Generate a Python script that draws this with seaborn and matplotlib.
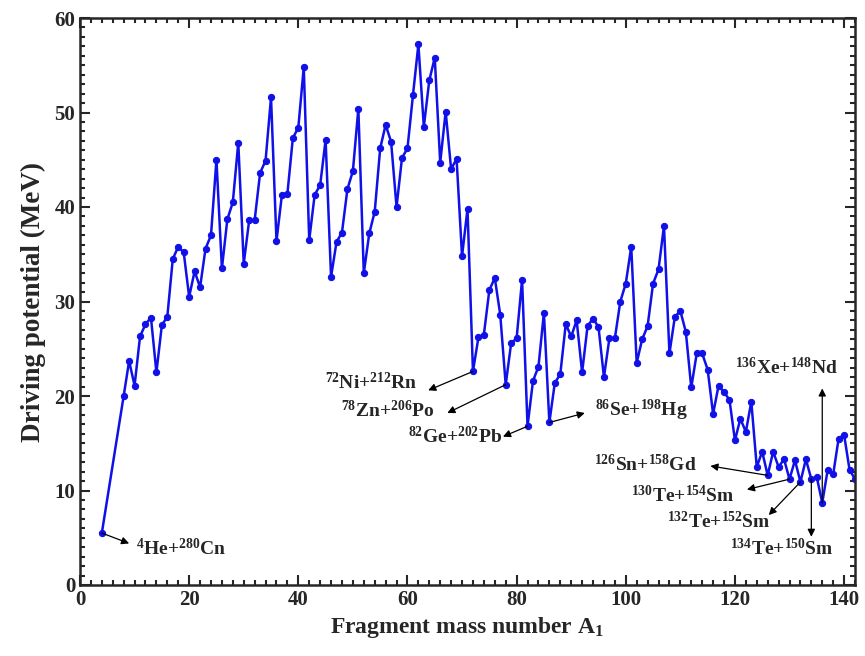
import matplotlib
matplotlib.use("Agg")
import matplotlib.pyplot as plt
import seaborn as sns
import pandas as pd
from matplotlib.ticker import MultipleLocator

# ---------------- data ----------------
mass_numbers = [4] + list(range(8, 143))
driving_potential = [
    5.5,
    20.0, 23.7, 21.1, 26.3, 27.6, 28.3, 22.5, 27.5, 28.4, 34.5,
    35.8, 35.2, 30.5, 33.2, 31.5, 35.6, 37.0, 45.0, 33.5, 38.7,
    40.5, 46.8, 34.0, 38.6, 38.6, 43.6, 44.9, 51.6, 36.4, 41.3,
    41.4, 47.3, 48.4, 54.8, 36.5, 41.3, 42.3, 47.1, 32.6, 36.3,
    37.3, 41.9, 43.8, 50.4, 33.0, 37.2, 39.5, 46.2, 48.7, 46.9,
    40.0, 45.2, 46.2, 51.8, 57.2, 48.5, 53.4, 55.8, 44.7, 50.1,
    44.0, 45.1, 34.8, 39.8, 22.6, 26.2, 26.5, 31.2, 32.5, 28.6,
    21.2, 25.6, 26.1, 32.3, 16.8, 21.6, 23.1, 28.8, 17.2, 21.4,
    22.3, 27.6, 26.3, 28.0, 22.5, 27.4, 28.2, 27.3, 22.0, 26.1,
    26.1, 30.0, 31.9, 35.8, 23.5, 26.0, 27.4, 31.9, 33.4, 38.0,
    24.5, 28.4, 29.0, 26.8, 20.9, 24.5, 24.5, 22.8, 18.1, 21.1,
    20.4, 19.6, 15.3, 17.6, 16.2, 19.4, 12.5, 14.1, 11.6, 14.1,
    12.5, 13.3, 11.2, 13.2, 10.9, 13.3, 11.2, 11.4, 8.7, 12.2,
    11.7, 15.5, 15.9, 12.2, 11.2,
]

labels = [r"$^{4}$He+$^{280}$Cn", r"$^{72}$Ni+$^{212}$Rn", r"$^{78}$Zn+$^{206}$Po",
          r"$^{82}$Ge+$^{202}$Pb", r"$^{86}$Se+$^{198}$Hg", r"$^{126}$Sn+$^{158}$Gd",
          r"$^{130}$Te+$^{154}$Sm", r"$^{132}$Te+$^{152}$Sm", r"$^{134}$Te+$^{150}$Sm",
          r"$^{136}$Xe+$^{148}$Nd"]
label_mass = [4, 72, 78, 82, 86, 126, 130, 132, 134, 136]
label_text_x = [18.6, 53.3, 56.4, 68.8, 102.8, 103.5, 110.4, 117.0, 128.6, 129.5]
label_text_y = [3.9, 21.4, 18.5, 15.7, 18.5, 12.8, 9.5, 6.7, 3.9, 23.0]
arrow_head_x = [9.0, 63.8, 67.3, 77.5, 92.5, 115.5, 122.2, 126.2, 134.0, 136.0]
arrow_head_y = [4.4, 20.6, 18.2, 15.7, 18.2, 12.6, 10.1, 7.4, 5.1, 20.8]

df = pd.DataFrame({"A1": mass_numbers, "V": driving_potential})

# ---------------- style ----------------
sns.set_style("ticks")
plt.rcParams["font.family"] = ["Liberation Serif", "DejaVu Serif"]
plt.rcParams["font.weight"] = "bold"
plt.rcParams["mathtext.fontset"] = "custom"
plt.rcParams["mathtext.rm"] = "Liberation Serif:bold"
plt.rcParams["mathtext.it"] = "Liberation Serif:bold:italic"
plt.rcParams["mathtext.bf"] = "Liberation Serif:bold"
plt.rcParams["mathtext.default"] = "rm"

fig = plt.figure(figsize=(8.65, 6.56), dpi=100)
ax = fig.add_axes([80 / 865, 1 - 585 / 656, 775 / 865, 567 / 656])

sns.lineplot(data=df, x="A1", y="V", ax=ax, color="#1010e8", lw=1.8,
             marker="o", markersize=4.5, markeredgecolor="#1010e8")

ax.set_xlim(0, 142)
ax.set_ylim(0, 60)
ax.xaxis.set_major_locator(MultipleLocator(20))
ax.xaxis.set_minor_locator(MultipleLocator(2))
ax.yaxis.set_major_locator(MultipleLocator(10))
ax.yaxis.set_minor_locator(MultipleLocator(1))
ax.tick_params(which="both", direction="in", top=True, right=True, width=1.5)
ax.tick_params(which="major", length=7, labelsize=15)
ax.tick_params(which="minor", length=3.5)
for lab in ax.get_xticklabels() + ax.get_yticklabels():
    lab.set_fontweight("bold")
for sp in ax.spines.values():
    sp.set_linewidth(1.8)

ax.set_xlabel(r"Fragment mass number A$_{1}$", fontsize=17, fontweight="bold", labelpad=4)
ax.set_ylabel("Driving potential (MeV)", fontsize=19.5, fontweight="bold", labelpad=6)

for lab, m, tx, ty, hx, hy in zip(labels, label_mass, label_text_x, label_text_y,
                                  arrow_head_x, arrow_head_y):
    px = m
    py = driving_potential[mass_numbers.index(m)]
    ax.annotate("", xy=(hx, hy), xytext=(px, py),
                arrowprops=dict(arrowstyle="-|>", color="black", lw=0.9,
                                mutation_scale=11, shrinkA=0, shrinkB=0))
    ax.text(tx, ty, lab, fontsize=14, fontweight="bold", ha="center", va="center")

fig.savefig("out.png", dpi=100)
